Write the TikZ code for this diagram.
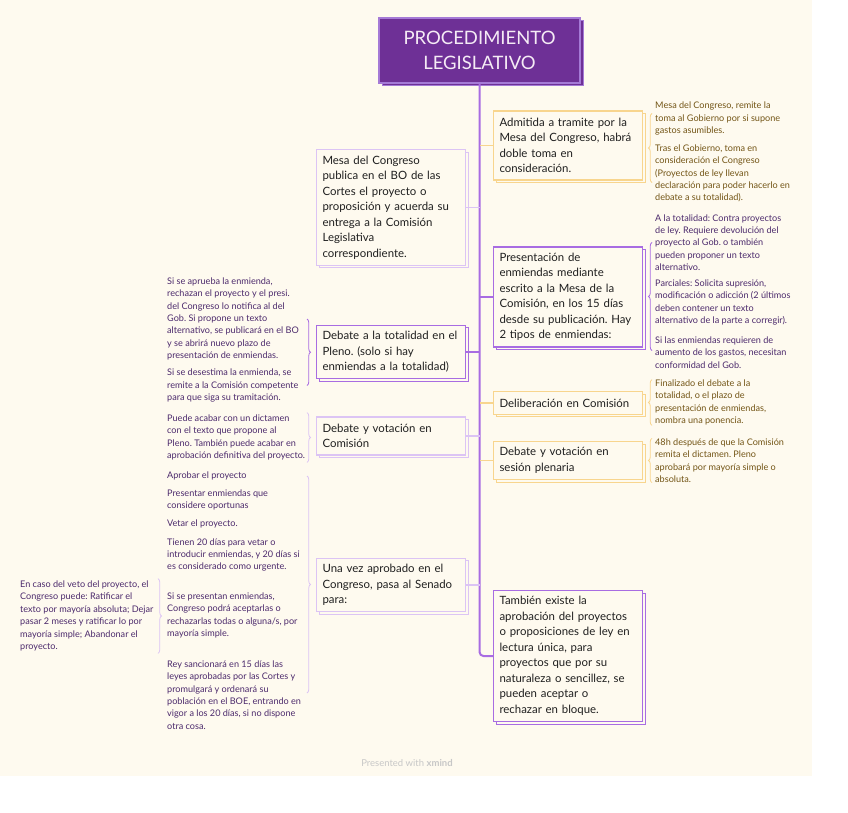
\documentclass[tikz,border=0pt]{standalone}
\usepackage{fontspec}
\setmainfont{Lato}
\frenchspacing
\usetikzlibrary{positioning, decorations.pathreplacing, shadows, calc}

\definecolor{paper}{HTML}{FEFAEF}
\definecolor{titlefill}{HTML}{6E3096}
\definecolor{titleline}{HTML}{A57AD6}
\definecolor{spine}{HTML}{A86CE2}
\definecolor{gold}{HTML}{F8D58E}
\definecolor{lilac}{HTML}{DCC4F4}
\definecolor{goldtext}{HTML}{735516}
\definecolor{violettext}{HTML}{4C2A6C}

\tikzset{
  topicbox/.style={draw=#1, line width=1.1pt, fill=paper, anchor=west,
    text width=137pt, inner xsep=6pt, inner ysep=3.5pt,
    align=left, font=\fontsize{11.4}{15.5}\selectfont, text=black!88,
    general shadow={shadow xshift=2.5pt, shadow yshift=-2.5pt, fill=paper, draw=#1, line width=1pt}},
  note/.style={anchor=west, inner sep=0pt, align=left, text=#1,
    font=\fontsize{9.1}{12.4}\selectfont},
  bracket/.style={draw=#1, line width=0.8pt, decorate,
    decoration={brace, amplitude=3.5pt}},
  branch/.style={draw=#1, line width=1.5pt},
}

\begin{document}
\begin{tikzpicture}[x=1pt, y=-1pt]
    % Page
    \useasboundingbox (0,0) rectangle (848,813);
    \fill[white] (0,0) rectangle (848,813);
    \fill[paper] (0,0) rectangle (812,776);

    % Central topic
    \node[fill=titlefill, draw=titleline, line width=1.2pt, minimum width=201pt, minimum height=65pt,
      align=center, text=white!92!violet, font=\fontsize{18.5}{25.5}\selectfont,
      general shadow={shadow xshift=3pt, shadow yshift=-3pt, fill=titlefill, draw=titleline, line width=1pt}]
      (title) at (479.5,50.5) {PROCEDIMIENTO\\LEGISLATIVO};

    % Right topics
    \node[topicbox=gold, minimum height=69pt] (admit) at (493,145.5)
      {Admitida a tramite por la\\Mesa del Congreso, habrá\\doble toma en\\consideración.};
    \node[topicbox=spine, minimum height=100pt] (enmiendas) at (493,297)
      {Presentación de\\enmiendas mediante\\escrito a la Mesa de la\\Comisión, en los 15 días\\desde su publicación. Hay\\2 tipos de enmiendas:};
    \node[topicbox=gold, minimum height=22.5pt] (delib) at (493,403)
      {Deliberación en Comisión};
    \node[topicbox=gold, minimum height=38pt] (pleno) at (493,460.5)
      {Debate y votación en\\sesión plenaria};
    \node[topicbox=spine, minimum height=131pt] (lectura) at (493,656)
      {También existe la\\aprobación del proyectos\\o proposiciones de ley en\\lectura única, para\\proyectos que por su\\naturaleza o sencillez, se\\pueden aceptar o\\rechazar en bloque.};

    % Left topics
    \node[topicbox=lilac, minimum height=115.5pt] (mesa) at (316,207.5)
      {Mesa del Congreso\\publica en el BO de las\\Cortes el proyecto o\\proposición y acuerda su\\entrega a la Comisión\\Legislativa\\correspondiente.};
    \node[topicbox=spine, minimum height=53.5pt] (totalidad) at (316,352)
      {Debate a la totalidad en el\\Pleno. (solo si hay\\enmiendas a la totalidad)};
    \node[topicbox=lilac, minimum height=38pt] (comision) at (316,436)
      {Debate y votación en\\Comisión};
    \node[topicbox=lilac, minimum height=53.5pt] (senado) at (316,585)
      {Una vez aprobado en el\\Congreso, pasa al Senado\\para:};

    % Trunk and branches
    \draw[branch=spine, line width=2pt, rounded corners=4pt] (title.south) |- (lectura.west);
    \draw[branch=gold] (admit.west) -- (admit.west -| title.south);
    \draw[branch=spine] (enmiendas.west) -- (enmiendas.west -| title.south);
    \draw[branch=gold] (delib.west) -- (delib.west -| title.south);
    \draw[branch=gold] (pleno.west) -- (pleno.west -| title.south);
    \draw[branch=lilac] (mesa.east) -- (mesa.east -| title.south);
    \draw[branch=spine] (totalidad.east) -- (totalidad.east -| title.south);
    \draw[branch=lilac] (comision.east) -- (comision.east -| title.south);
    \draw[branch=lilac] (senado.east) -- (senado.east -| title.south);

    % Notes on the right
    \node[note=goldtext] (a1) at (655,118.5)
      {Mesa del Congreso, remite la\\toma al Gobierno por si supone\\gastos asumibles.};
    \node[note=goldtext] (a2) at (655,173.5)
      {Tras el Gobierno, toma en\\consideración el Congreso\\(Proyectos de ley llevan\\declaración para poder hacerlo en\\debate a su totalidad).};
    \node[note=violettext] (b1) at (655,242.5)
      {A la totalidad: Contra proyectos\\de ley. Requiere devolución del\\proyecto al Gob. o también\\pueden proponer un texto\\alternativo.};
    \node[note=violettext] (b2) at (655,302.5)
      {Parciales: Solicita supresión,\\modificación o adicción (2 últimos\\deben contener un texto\\alternativo de la parte a corregir).};
    \node[note=violettext] (b3) at (655,352.5)
      {Si las enmiendas requieren de\\aumento de los gastos, necesitan\\conformidad del Gob.};
    \node[note=goldtext] (c1) at (655,402.5)
      {Finalizado el debate a la\\totalidad, o el plazo de\\presentación de enmiendas,\\nombra una ponencia.};
    \node[note=goldtext] (d1) at (655,460.5)
      {48h después de que la Comisión\\remita el dictamen. Pleno\\aprobará por mayoría simple o\\absoluta.};

    % Notes on the left
    \node[note=violettext] (e1) at (167,319)
      {Si se aprueba la enmienda,\\rechazan el proyecto y el presi.\\del Congreso lo notifica al del\\Gob. Si propone un texto\\alternativo, se publicará en el BO\\y se abrirá nuevo plazo de\\presentación de enmiendas.};
    \node[note=violettext] (e2) at (167,385.5)
      {Si se desestima la enmienda, se\\remite a la Comisión competente\\para que siga su tramitación.};
    \node[note=violettext] (f1) at (167,437.5)
      {Puede acabar con un dictamen\\con el texto que propone al\\Pleno. También puede acabar en\\aprobación definitiva del proyecto.};
    \node[note=violettext] (g1) at (167,476) {Aprobar el proyecto};
    \node[note=violettext] (g2) at (167,500) {Presentar enmiendas que\\considere oportunas};
    \node[note=violettext] (g3) at (167,524) {Vetar el proyecto.};
    \node[note=violettext] (g4) at (167,555)
      {Tienen 20 días para vetar o\\introducir enmiendas, y 20 días si\\es considerado como urgente.};
    \node[note=violettext] (g5) at (167,615.5)
      {Si se presentan enmiendas,\\Congreso podrá aceptarlas o\\rechazarlas todas o alguna/s, por\\mayoría simple.};
    \node[note=violettext] (g6) at (167,695)
      {Rey sancionará en 15 días las\\leyes aprobadas por las Cortes y\\promulgará y ordenará su\\población en el BOE, entrando en\\vigor a los 20 días, si no dispone\\otra cosa.};
    \node[note=violettext] (h1) at (20,616)
      {En caso del veto del proyecto, el\\Congreso puede: Ratificar el\\texto por mayoría absoluta; Dejar\\pasar 2 meses y ratificar lo por\\mayoría simple; Abandonar el\\proyecto.};

    % Brackets
    \draw[bracket=gold] ($(a2.west)+(-3,9)$) -- ($(a1.west)+(-3,-5)$);
    \draw[bracket=spine] ($(b3.west)+(-3,-2)$) -- ($(b1.west)+(-3,0)$);
    \draw[bracket=gold] ($(c1.south west)+(-3,0)$) -- ($(c1.north west)+(-3,0)$);
    \draw[bracket=gold] ($(d1.south west)+(-3,0)$) -- ($(d1.north west)+(-3,0)$);
    \draw[bracket=spine] ($(e1.west -| totalidad.west)+(-9,0)$) -- ($(e2.west -| totalidad.west)+(-9,0)$);
    \draw[bracket=lilac] ($(f1.north west -| comision.west)+(-9,-2)$) -- ($(f1.south west -| comision.west)+(-9,2)$);
    \draw[bracket=lilac] ($(g1.west -| senado.west)+(-9,0)$) -- ($(g6.west -| senado.west)+(-9,-2)$);
    \draw[bracket=lilac] ($(h1.north west -| g5.west)+(-9,-2)$) -- ($(h1.south west -| g5.west)+(-9,2)$);

    % Footer
    \node[text=black!22, font=\fontsize{9.5}{11}\selectfont] (footer) at (407,763)
      {Presented with \textbf{xmind}};
\end{tikzpicture}
\end{document}
